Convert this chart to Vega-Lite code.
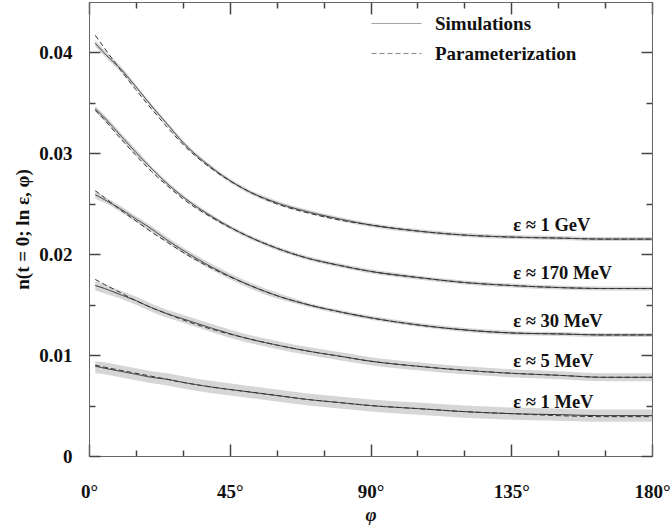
{
  "$schema": "https://vega.github.io/schema/vega-lite/v6.json",
  "autosize": {"type": "none"},
  "padding": {"left": 89, "top": 2, "right": 19, "bottom": 76},
  "width": 563,
  "height": 454,
  "background": "white",
  "config": {
    "font": "Liberation Serif",
    "view": {"stroke": "#666", "strokeWidth": 1},
    "axis": {
      "labelFont": "Liberation Serif",
      "labelFontSize": 19,
      "labelFontWeight": "bold",
      "labelColor": "#111",
      "titleFont": "Liberation Serif",
      "titleFontSize": 19,
      "titleFontWeight": "bold",
      "titleColor": "#111",
      "labelOverlap": false,
      "labelFlush": false
    }
  },
  "datasets": {
    "curves": [
      {"e": "ε ≈ 1 GeV", "phi": 2, "sim": 0.0409, "par": 0.0417, "lo": 0.0406, "hi": 0.0412},
      {"e": "ε ≈ 1 GeV", "phi": 5, "sim": 0.0399, "par": 0.0404, "lo": 0.0396, "hi": 0.0402},
      {"e": "ε ≈ 1 GeV", "phi": 10, "sim": 0.0384, "par": 0.0383, "lo": 0.0381, "hi": 0.0387},
      {"e": "ε ≈ 1 GeV", "phi": 15, "sim": 0.0366, "par": 0.0363, "lo": 0.0364, "hi": 0.0368},
      {"e": "ε ≈ 1 GeV", "phi": 20, "sim": 0.0347, "par": 0.0344, "lo": 0.0345, "hi": 0.0349},
      {"e": "ε ≈ 1 GeV", "phi": 25, "sim": 0.0329, "par": 0.0326, "lo": 0.0327, "hi": 0.0331},
      {"e": "ε ≈ 1 GeV", "phi": 30, "sim": 0.0311, "par": 0.0309, "lo": 0.0309, "hi": 0.0313},
      {"e": "ε ≈ 1 GeV", "phi": 40, "sim": 0.0284, "par": 0.0283, "lo": 0.0282, "hi": 0.0286},
      {"e": "ε ≈ 1 GeV", "phi": 50, "sim": 0.0264, "par": 0.0264, "lo": 0.0262, "hi": 0.0266},
      {"e": "ε ≈ 1 GeV", "phi": 60, "sim": 0.0251, "par": 0.0250, "lo": 0.0249, "hi": 0.0253},
      {"e": "ε ≈ 1 GeV", "phi": 70, "sim": 0.0242, "par": 0.0241, "lo": 0.0240, "hi": 0.0244},
      {"e": "ε ≈ 1 GeV", "phi": 80, "sim": 0.0235, "par": 0.0234, "lo": 0.0233, "hi": 0.0237},
      {"e": "ε ≈ 1 GeV", "phi": 90, "sim": 0.0229, "par": 0.0229, "lo": 0.0227, "hi": 0.0231},
      {"e": "ε ≈ 1 GeV", "phi": 105, "sim": 0.0223, "par": 0.0223, "lo": 0.0221, "hi": 0.0225},
      {"e": "ε ≈ 1 GeV", "phi": 120, "sim": 0.0219, "par": 0.0219, "lo": 0.0217, "hi": 0.0221},
      {"e": "ε ≈ 1 GeV", "phi": 135, "sim": 0.0217, "par": 0.0217, "lo": 0.0215, "hi": 0.0219},
      {"e": "ε ≈ 1 GeV", "phi": 150, "sim": 0.0216, "par": 0.0216, "lo": 0.0214, "hi": 0.0218},
      {"e": "ε ≈ 1 GeV", "phi": 165, "sim": 0.0215, "par": 0.0215, "lo": 0.0213, "hi": 0.0217},
      {"e": "ε ≈ 1 GeV", "phi": 180, "sim": 0.0215, "par": 0.0215, "lo": 0.0213, "hi": 0.0217},

      {"e": "ε ≈ 170 MeV", "phi": 2, "sim": 0.0344, "par": 0.0343, "lo": 0.0341, "hi": 0.0347},
      {"e": "ε ≈ 170 MeV", "phi": 5, "sim": 0.0335, "par": 0.0333, "lo": 0.0332, "hi": 0.0338},
      {"e": "ε ≈ 170 MeV", "phi": 10, "sim": 0.0318, "par": 0.0315, "lo": 0.0315, "hi": 0.0321},
      {"e": "ε ≈ 170 MeV", "phi": 15, "sim": 0.0301, "par": 0.0298, "lo": 0.0298, "hi": 0.0304},
      {"e": "ε ≈ 170 MeV", "phi": 20, "sim": 0.0285, "par": 0.0282, "lo": 0.0283, "hi": 0.0287},
      {"e": "ε ≈ 170 MeV", "phi": 25, "sim": 0.0270, "par": 0.0268, "lo": 0.0268, "hi": 0.0272},
      {"e": "ε ≈ 170 MeV", "phi": 30, "sim": 0.0257, "par": 0.0255, "lo": 0.0255, "hi": 0.0259},
      {"e": "ε ≈ 170 MeV", "phi": 40, "sim": 0.0236, "par": 0.0235, "lo": 0.0234, "hi": 0.0238},
      {"e": "ε ≈ 170 MeV", "phi": 50, "sim": 0.0219, "par": 0.0219, "lo": 0.0217, "hi": 0.0221},
      {"e": "ε ≈ 170 MeV", "phi": 60, "sim": 0.0206, "par": 0.0206, "lo": 0.0204, "hi": 0.0208},
      {"e": "ε ≈ 170 MeV", "phi": 70, "sim": 0.0196, "par": 0.0196, "lo": 0.0194, "hi": 0.0198},
      {"e": "ε ≈ 170 MeV", "phi": 80, "sim": 0.0189, "par": 0.0189, "lo": 0.0187, "hi": 0.0191},
      {"e": "ε ≈ 170 MeV", "phi": 90, "sim": 0.0183, "par": 0.0183, "lo": 0.0181, "hi": 0.0185},
      {"e": "ε ≈ 170 MeV", "phi": 105, "sim": 0.0177, "par": 0.0177, "lo": 0.0175, "hi": 0.0179},
      {"e": "ε ≈ 170 MeV", "phi": 120, "sim": 0.0172, "par": 0.0172, "lo": 0.0170, "hi": 0.0174},
      {"e": "ε ≈ 170 MeV", "phi": 135, "sim": 0.0169, "par": 0.0169, "lo": 0.0167, "hi": 0.0171},
      {"e": "ε ≈ 170 MeV", "phi": 150, "sim": 0.0167, "par": 0.0167, "lo": 0.0165, "hi": 0.0169},
      {"e": "ε ≈ 170 MeV", "phi": 165, "sim": 0.0166, "par": 0.0166, "lo": 0.0164, "hi": 0.0168},
      {"e": "ε ≈ 170 MeV", "phi": 180, "sim": 0.0166, "par": 0.0166, "lo": 0.0164, "hi": 0.0168},

      {"e": "ε ≈ 30 MeV", "phi": 2, "sim": 0.0259, "par": 0.0263, "lo": 0.0255, "hi": 0.0263},
      {"e": "ε ≈ 30 MeV", "phi": 5, "sim": 0.0254, "par": 0.0256, "lo": 0.0251, "hi": 0.0257},
      {"e": "ε ≈ 30 MeV", "phi": 10, "sim": 0.0245, "par": 0.0244, "lo": 0.0242, "hi": 0.0248},
      {"e": "ε ≈ 30 MeV", "phi": 15, "sim": 0.0235, "par": 0.0233, "lo": 0.0232, "hi": 0.0238},
      {"e": "ε ≈ 30 MeV", "phi": 20, "sim": 0.0225, "par": 0.0222, "lo": 0.0222, "hi": 0.0228},
      {"e": "ε ≈ 30 MeV", "phi": 25, "sim": 0.0214, "par": 0.0212, "lo": 0.0211, "hi": 0.0217},
      {"e": "ε ≈ 30 MeV", "phi": 30, "sim": 0.0204, "par": 0.0202, "lo": 0.0201, "hi": 0.0207},
      {"e": "ε ≈ 30 MeV", "phi": 40, "sim": 0.0186, "par": 0.0185, "lo": 0.0183, "hi": 0.0189},
      {"e": "ε ≈ 30 MeV", "phi": 50, "sim": 0.0171, "par": 0.0171, "lo": 0.0168, "hi": 0.0174},
      {"e": "ε ≈ 30 MeV", "phi": 60, "sim": 0.0159, "par": 0.0159, "lo": 0.0156, "hi": 0.0162},
      {"e": "ε ≈ 30 MeV", "phi": 70, "sim": 0.0150, "par": 0.0150, "lo": 0.0148, "hi": 0.0152},
      {"e": "ε ≈ 30 MeV", "phi": 80, "sim": 0.0143, "par": 0.0143, "lo": 0.0141, "hi": 0.0145},
      {"e": "ε ≈ 30 MeV", "phi": 90, "sim": 0.0137, "par": 0.0137, "lo": 0.0135, "hi": 0.0139},
      {"e": "ε ≈ 30 MeV", "phi": 105, "sim": 0.0130, "par": 0.0130, "lo": 0.0128, "hi": 0.0132},
      {"e": "ε ≈ 30 MeV", "phi": 120, "sim": 0.0125, "par": 0.0125, "lo": 0.0123, "hi": 0.0127},
      {"e": "ε ≈ 30 MeV", "phi": 135, "sim": 0.0122, "par": 0.0122, "lo": 0.0120, "hi": 0.0124},
      {"e": "ε ≈ 30 MeV", "phi": 150, "sim": 0.0121, "par": 0.0121, "lo": 0.0119, "hi": 0.0123},
      {"e": "ε ≈ 30 MeV", "phi": 165, "sim": 0.0120, "par": 0.0120, "lo": 0.0118, "hi": 0.0122},
      {"e": "ε ≈ 30 MeV", "phi": 180, "sim": 0.0120, "par": 0.0120, "lo": 0.0118, "hi": 0.0122},

      {"e": "ε ≈ 5 MeV", "phi": 2, "sim": 0.0169, "par": 0.0175, "lo": 0.0164, "hi": 0.0173},
      {"e": "ε ≈ 5 MeV", "phi": 5, "sim": 0.0166, "par": 0.0170, "lo": 0.0161, "hi": 0.0170},
      {"e": "ε ≈ 5 MeV", "phi": 10, "sim": 0.0160, "par": 0.0162, "lo": 0.0156, "hi": 0.0164},
      {"e": "ε ≈ 5 MeV", "phi": 15, "sim": 0.0154, "par": 0.0154, "lo": 0.0150, "hi": 0.0158},
      {"e": "ε ≈ 5 MeV", "phi": 20, "sim": 0.0147, "par": 0.0147, "lo": 0.0143, "hi": 0.0151},
      {"e": "ε ≈ 5 MeV", "phi": 25, "sim": 0.0141, "par": 0.0141, "lo": 0.0137, "hi": 0.0145},
      {"e": "ε ≈ 5 MeV", "phi": 30, "sim": 0.0136, "par": 0.0135, "lo": 0.0132, "hi": 0.0140},
      {"e": "ε ≈ 5 MeV", "phi": 40, "sim": 0.0126, "par": 0.0125, "lo": 0.0122, "hi": 0.0130},
      {"e": "ε ≈ 5 MeV", "phi": 50, "sim": 0.0117, "par": 0.0117, "lo": 0.0113, "hi": 0.0121},
      {"e": "ε ≈ 5 MeV", "phi": 60, "sim": 0.0110, "par": 0.0110, "lo": 0.0106, "hi": 0.0114},
      {"e": "ε ≈ 5 MeV", "phi": 70, "sim": 0.0104, "par": 0.0104, "lo": 0.0100, "hi": 0.0108},
      {"e": "ε ≈ 5 MeV", "phi": 80, "sim": 0.0099, "par": 0.0099, "lo": 0.0095, "hi": 0.0103},
      {"e": "ε ≈ 5 MeV", "phi": 90, "sim": 0.0094, "par": 0.0094, "lo": 0.0090, "hi": 0.0098},
      {"e": "ε ≈ 5 MeV", "phi": 105, "sim": 0.0089, "par": 0.0089, "lo": 0.0085, "hi": 0.0093},
      {"e": "ε ≈ 5 MeV", "phi": 120, "sim": 0.0085, "par": 0.0085, "lo": 0.0081, "hi": 0.0089},
      {"e": "ε ≈ 5 MeV", "phi": 135, "sim": 0.0082, "par": 0.0082, "lo": 0.0078, "hi": 0.0086},
      {"e": "ε ≈ 5 MeV", "phi": 150, "sim": 0.0080, "par": 0.0080, "lo": 0.0076, "hi": 0.0084},
      {"e": "ε ≈ 5 MeV", "phi": 165, "sim": 0.0078, "par": 0.0078, "lo": 0.0074, "hi": 0.0082},
      {"e": "ε ≈ 5 MeV", "phi": 180, "sim": 0.0078, "par": 0.0078, "lo": 0.0074, "hi": 0.0082},

      {"e": "ε ≈ 1 MeV", "phi": 2, "sim": 0.0089, "par": 0.0090, "lo": 0.0082, "hi": 0.0094},
      {"e": "ε ≈ 1 MeV", "phi": 5, "sim": 0.0087, "par": 0.0088, "lo": 0.0081, "hi": 0.0093},
      {"e": "ε ≈ 1 MeV", "phi": 10, "sim": 0.0084, "par": 0.0085, "lo": 0.0078, "hi": 0.0090},
      {"e": "ε ≈ 1 MeV", "phi": 15, "sim": 0.0081, "par": 0.0082, "lo": 0.0075, "hi": 0.0087},
      {"e": "ε ≈ 1 MeV", "phi": 20, "sim": 0.0078, "par": 0.0079, "lo": 0.0072, "hi": 0.0084},
      {"e": "ε ≈ 1 MeV", "phi": 25, "sim": 0.0076, "par": 0.0076, "lo": 0.0070, "hi": 0.0082},
      {"e": "ε ≈ 1 MeV", "phi": 30, "sim": 0.0073, "par": 0.0073, "lo": 0.0067, "hi": 0.0079},
      {"e": "ε ≈ 1 MeV", "phi": 40, "sim": 0.0068, "par": 0.0068, "lo": 0.0062, "hi": 0.0074},
      {"e": "ε ≈ 1 MeV", "phi": 50, "sim": 0.0064, "par": 0.0064, "lo": 0.0058, "hi": 0.0070},
      {"e": "ε ≈ 1 MeV", "phi": 60, "sim": 0.0060, "par": 0.0060, "lo": 0.0054, "hi": 0.0066},
      {"e": "ε ≈ 1 MeV", "phi": 70, "sim": 0.0056, "par": 0.0056, "lo": 0.0050, "hi": 0.0062},
      {"e": "ε ≈ 1 MeV", "phi": 80, "sim": 0.0053, "par": 0.0053, "lo": 0.0047, "hi": 0.0059},
      {"e": "ε ≈ 1 MeV", "phi": 90, "sim": 0.0050, "par": 0.0050, "lo": 0.0044, "hi": 0.0056},
      {"e": "ε ≈ 1 MeV", "phi": 105, "sim": 0.0047, "par": 0.0047, "lo": 0.0041, "hi": 0.0053},
      {"e": "ε ≈ 1 MeV", "phi": 120, "sim": 0.0044, "par": 0.0044, "lo": 0.0038, "hi": 0.0050},
      {"e": "ε ≈ 1 MeV", "phi": 135, "sim": 0.0042, "par": 0.0042, "lo": 0.0036, "hi": 0.0048},
      {"e": "ε ≈ 1 MeV", "phi": 150, "sim": 0.0041, "par": 0.0040, "lo": 0.0035, "hi": 0.0047},
      {"e": "ε ≈ 1 MeV", "phi": 165, "sim": 0.0040, "par": 0.0039, "lo": 0.0034, "hi": 0.0046},
      {"e": "ε ≈ 1 MeV", "phi": 180, "sim": 0.0040, "par": 0.0039, "lo": 0.0034, "hi": 0.0046}
    ]
  },
  "layer": [
    {
      "data": {"name": "curves"},
      "mark": {"type": "area", "color": "#d6d6d6", "interpolate": "monotone"},
      "encoding": {
        "x": {
          "field": "phi", "type": "quantitative",
          "scale": {"domain": [0, 180], "nice": false},
          "axis": {
            "orient": "bottom",
            "values": [0, 15, 30, 45, 60, 75, 90, 105, 120, 135, 150, 165, 180],
            "labelExpr": "datum.value % 45 === 0 ? datum.value + '°' : ''",
            "domainColor": "#666",
            "gridOpacity": 0,
            "ticks": true,
            "tickColor": "#444",
            "tickWidth": 1.5,
            "tickRound": true,
            "tickSize": -12,
            "tickDash": {"condition": {"test": "datum.value % 45 === 0", "value": [12, 0]}, "value": [6, 30]},
            "labelPadding": 38,
            "title": "φ",
            "titleFontStyle": "italic",
            "titlePadding": 4
          }
        },
        "y": {
          "field": "lo", "type": "quantitative",
          "scale": {"domain": [0, 0.045], "nice": false, "zero": true},
          "axis": {
            "orient": "left",
            "values": [0, 0.005, 0.01, 0.015, 0.02, 0.025, 0.03, 0.035, 0.04],
            "labelExpr": "datum.value === 0 ? '0' : (round(datum.value * 1000) % 10 === 0 ? format(datum.value, '.2f') : '')",
            "domainColor": "#666",
            "gridOpacity": 0,
            "ticks": true,
            "tickColor": "#444",
            "tickWidth": 1.5,
            "tickRound": true,
            "tickSize": -11,
            "tickDash": {"condition": {"test": "round(datum.value * 1000) % 10 === 0", "value": [11, 0]}, "value": [6, 30]},
            "labelPadding": 28,
            "title": "n(t = 0; ln ε, φ)",
            "titlePadding": 6
          }
        },
        "y2": {"field": "hi"},
        "detail": {"field": "e"}
      }
    },
    {
      "data": {"name": "curves"},
      "transform": [{"fold": ["sim", "par"], "as": ["kind", "n"]}],
      "mark": {"type": "line", "color": "#333", "strokeWidth": 1, "interpolate": "monotone"},
      "encoding": {
        "x": {
          "field": "phi", "type": "quantitative",
          "axis": {
            "orient": "top",
            "values": [0, 15, 30, 45, 60, 75, 90, 105, 120, 135, 150, 165, 180],
            "labels": false,
            "domainColor": "#666",
            "gridOpacity": 0,
            "ticks": true,
            "tickColor": "#444",
            "tickWidth": 1.5,
            "tickRound": true,
            "tickSize": -12,
            "tickDash": {"condition": {"test": "datum.value % 45 === 0", "value": [12, 0]}, "value": [6, 30]},
            "title": null
          }
        },
        "y": {
          "field": "n", "type": "quantitative",
          "axis": {
            "orient": "right",
            "values": [0, 0.005, 0.01, 0.015, 0.02, 0.025, 0.03, 0.035, 0.04],
            "labels": false,
            "domainColor": "#666",
            "gridOpacity": 0,
            "ticks": true,
            "tickColor": "#444",
            "tickWidth": 1.5,
            "tickRound": true,
            "tickSize": -11,
            "tickDash": {"condition": {"test": "round(datum.value * 1000) % 10 === 0", "value": [11, 0]}, "value": [6, 30]},
            "title": null
          }
        },
        "strokeDash": {
          "field": "kind", "type": "nominal",
          "scale": {"domain": ["sim", "par"], "range": [[1, 0], [5, 3]]},
          "legend": {
            "title": null,
            "orient": "none",
            "legendX": 298,
            "legendY": 12,
            "symbolType": "M-5,0H5",
            "symbolSize": 100,
            "symbolStrokeColor": "#888",
            "symbolStrokeWidth": 1,
            "labelExpr": "datum.value === 'sim' ? 'Simulations' : 'Parameterization'",
            "labelFont": "Liberation Serif",
            "labelFontSize": 19,
            "labelFontWeight": "bold",
            "labelColor": "#111",
            "labelOffset": 29,
            "rowPadding": 10
          }
        },
        "detail": {"field": "e"}
      }
    },
    {
      "data": {"name": "curves"},
      "transform": [{"filter": "datum.phi === 135"}],
      "mark": {"type": "text", "align": "left", "baseline": "middle", "dx": 2, "dy": -12, "fontSize": 18.5, "fontWeight": "bold", "color": "#111"},
      "encoding": {
        "x": {"field": "phi", "type": "quantitative", "axis": null},
        "y": {"field": "sim", "type": "quantitative", "axis": null},
        "text": {"field": "e"}
      }
    }
  ]
}
